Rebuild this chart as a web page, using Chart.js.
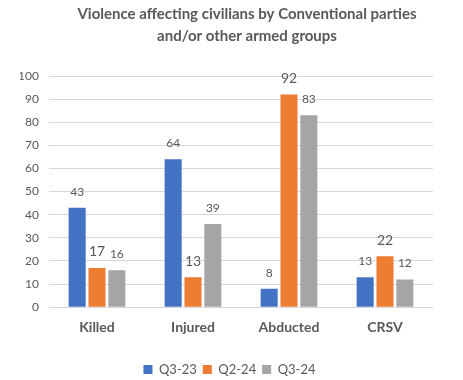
<!DOCTYPE html>
<html>
<head>
<meta charset="utf-8">
<script src="https://cdn.jsdelivr.net/npm/chart.js@4/dist/chart.umd.min.js"></script>
<style>
html,body{margin:0;padding:0;background:#fff;}
#wrap{width:463px;height:380px;position:relative;}
</style>
</head>
<body>
<div id="wrap"><canvas id="c" width="463" height="380"></canvas></div>
<script>
const categories = ["Killed", "Injured", "Abducted", "CRSV"];
const seriesNames = ["Q3-23", "Q2-24", "Q3-24"];
const q3_23 = [43, 64, 8, 13];
const q2_24 = [17, 13, 92, 22];
const q3_24 = [16, 36, 83, 12];
const q3_23Labels = ["43", "64", "8", "13"];
const q2_24Labels = ["17", "13", "92", "22"];
const q3_24Labels = ["16", "39", "83", "12"];
const yTicks = [0, 10, 20, 30, 40, 50, 60, 70, 80, 90, 100];
const titleLines = ["Violence affecting civilians by Conventional parties", "and/or other armed groups"];

const FONT = "Lato, 'Open Sans', sans-serif";
const TXT = "#595959";

const labelSets = [q3_23Labels, q2_24Labels, q3_24Labels];
const labelFontSizes = [12, 14, 12];

const valueLabels = {
  id: 'valueLabels',
  afterDatasetsDraw(chart) {
    const ctx = chart.ctx;
    ctx.save();
    chart.data.datasets.forEach((ds, i) => {
      const meta = chart.getDatasetMeta(i);
      meta.data.forEach((bar, j) => {
        ctx.font = labelFontSizes[i] + "px " + FONT;
        ctx.fillStyle = TXT;
        ctx.textAlign = 'center';
        ctx.textBaseline = 'middle';
        ctx.fillText(labelSets[i][j], bar.x, bar.y - 16);
      });
    });
    ctx.restore();
  }
};

const titleDraw = {
  id: 'titleDraw',
  afterDraw(chart) {
    const ctx = chart.ctx;
    ctx.save();
    ctx.font = "bold 15px " + FONT;
    ctx.fillStyle = TXT;
    ctx.textAlign = 'center';
    ctx.textBaseline = 'middle';
    ctx.fillText(titleLines[0], 247, 14);
    ctx.fillText(titleLines[1], 247, 36);
    ctx.restore();
  }
};

const legendShift = {
  id: 'legendShift',
  afterLayout(chart) {
    const lg = chart.legend;
    if (!lg) return;
    lg.left += 3; lg.right += 3;
    lg.top += 6; lg.bottom += 6;
  }
};

new Chart(document.getElementById('c'), {
  type: 'bar',
  data: {
    labels: categories,
    datasets: [
      {label: seriesNames[0], data: q3_23, backgroundColor: '#4472C4'},
      {label: seriesNames[1], data: q2_24, backgroundColor: '#ED7D31'},
      {label: seriesNames[2], data: q3_24, backgroundColor: '#A5A5A5'}
    ]
  },
  options: {
    responsive: false,
    animation: false,
    devicePixelRatio: 1,
    datasets: {bar: {categoryPercentage: 0.62, barPercentage: 0.86}},
    layout: {padding: {left: 20, right: 30, top: 76, bottom: 0}},
    plugins: {
      title: {display: false},
      legend: {
        position: 'bottom',
        labels: {
          color: TXT,
          font: {family: FONT, size: 13},
          boxWidth: 9, boxHeight: 9,
          padding: 6
        }
      },
      tooltip: {enabled: false}
    },
    scales: {
      x: {
        grid: {display: false},
        border: {display: false},
        ticks: {color: TXT, font: {family: FONT, size: 14, weight: 'bold'}, padding: 4},
        afterFit(axis) { axis.height += 11; }
      },
      y: {
        min: 0, max: 100,
        afterBuildTicks(axis) { axis.ticks = yTicks.map(v => ({value: v})); },
        afterFit(axis) { axis.width = 29; },
        grid: {color: '#d9d9d9', drawTicks: false},
        border: {display: false},
        ticks: {color: TXT, font: {family: FONT, size: 12}, padding: 10}
      }
    }
  },
  plugins: [valueLabels, titleDraw, legendShift]
});
</script>
</body>
</html>
